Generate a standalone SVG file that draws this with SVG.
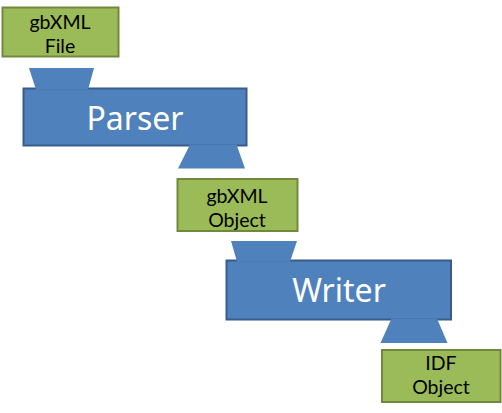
<svg xmlns="http://www.w3.org/2000/svg" width="502" height="413" viewBox="0 0 502 413">
<style>
.box{fill:#9bbb59;stroke:#71893f;stroke-width:2}
.proc{fill:#4f81bd;stroke:#385d8a;stroke-width:2}
.tab{fill:#4f81bd;stroke:none}
.lbl{font-family:Lato,"Noto Sans",sans-serif;font-size:19.5px;fill:#000;text-anchor:middle}
.big{font-family:"Noto Sans","Open Sans","DejaVu Sans",sans-serif;font-size:32px;fill:#fff;text-anchor:middle}
</style>
<rect width="502" height="413" fill="#fff"/>
<g id="gbxml-file">
<rect class="box" x="2.5" y="7.5" width="116" height="49"/>
<text class="lbl" x="60" y="28.5">gbXML</text>
<text class="lbl" x="60" y="52.5">File</text>
</g>
<g id="parser">
<rect class="proc" x="23.5" y="88.5" width="223" height="57"/>
</g>
<g id="gbxml-object">
<rect class="box" x="177.5" y="179" width="120" height="52"/>
<text class="lbl" x="237" y="203">gbXML</text>
<text class="lbl" x="237" y="226.5">Object</text>
</g>
<g id="writer">
<rect class="proc" x="226.5" y="260.5" width="224.5" height="59"/>
</g>
<g id="idf-object">
<rect class="box" x="382" y="350" width="118.5" height="52"/>
<text class="lbl" x="441" y="370">IDF</text>
<text class="lbl" x="441" y="393.5">Object</text>
</g>
<g id="connectors">
<polygon class="tab" points="29,68 94,68 88,89.8 36,89.8"/>
<polygon class="tab" points="190,144.5 236.5,144.5 245,168.5 178,168.5"/>
<polygon class="tab" points="231,241 297,241 290,261.8 237,261.8"/>
<polygon class="tab" points="391.5,318.5 437,318.5 447.5,343 380.5,343"/>
</g>
<g id="labels">
<text class="big" x="135" y="130">Parser</text>
<text class="big" x="339" y="301.5">Writer</text>
</g>
</svg>
